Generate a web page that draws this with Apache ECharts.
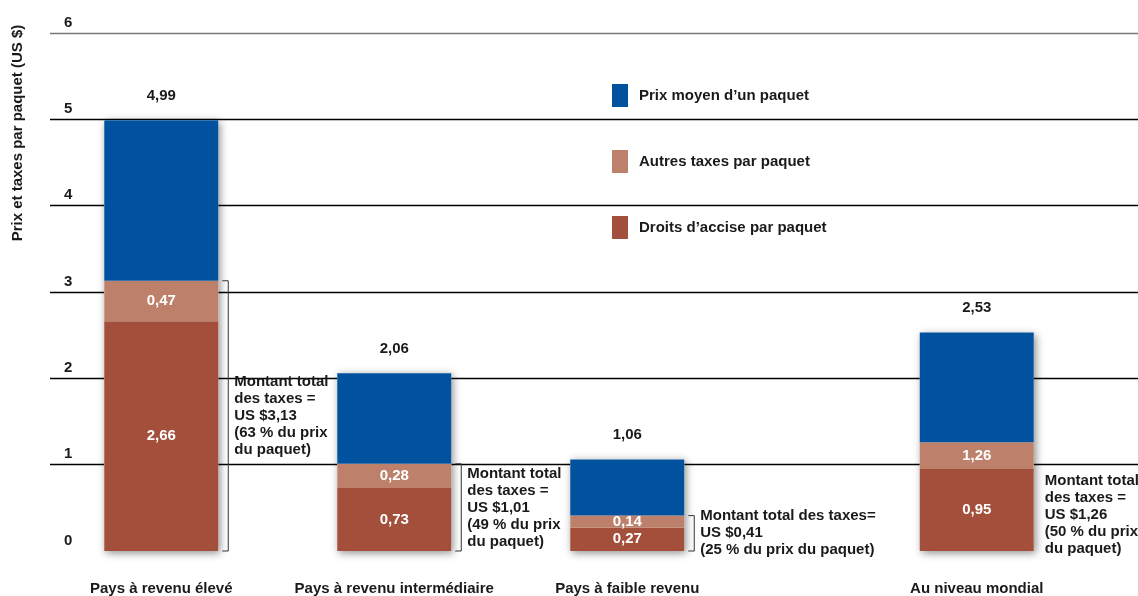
<!DOCTYPE html>
<html>
<head>
<meta charset="utf-8">
<script src="https://cdn.jsdelivr.net/npm/echarts@6/dist/echarts.min.js"></script>
<style>html,body{margin:0;padding:0;background:#fff}#c{width:1138px;height:596px}</style>
</head>
<body>
<div id="c"></div>
<script>
const categories = ['Pays à revenu élevé', 'Pays à revenu intermédiaire', 'Pays à faible revenu', 'Au niveau mondial'];
const totalPrice = [4.99, 2.06, 1.06, 2.53];
const exciseTax = [2.66, 0.73, 0.27, 0.95];
const otherTax = [0.47, 0.28, 0.14, 0.31];
const otherTaxLabels = ['0,47', '0,28', '0,14', '1,26'];
const taxTotals = [3.13, 1.01, 0.41, 1.26];
const taxNotes = [
  'Montant total\ndes taxes =\nUS $3,13\n(63 % du prix\ndu paquet)',
  'Montant total\ndes taxes =\nUS $1,01\n(49 % du prix\ndu paquet)',
  'Montant total des taxes=\nUS $0,41\n(25 % du prix du paquet)',
  'Montant total\ndes taxes =\nUS $1,26\n(50 % du prix\ndu paquet)'
];
const showBracket = [true, true, true, false];
const yTicks = [0, 1, 2, 3, 4, 5, 6];
const seriesNames = ['Prix moyen d’un paquet', 'Autres taxes par paquet', 'Droits d’accise par paquet'];

const FONT = '"Liberation Sans", Arial, sans-serif';
const COL_BLUE = '#00519e', COL_OTHER = '#bd806b', COL_EXCISE = '#a34f3b';
const BAR_W = 114;

// axis slots: spacer categories between groups
const spacersAfter = [1, 1, 2, 0];
const axisCats = [];
categories.forEach((c, i) => { axisCats.push(c); for (let k = 0; k < spacersAfter[i]; k++) axisCats.push('_' + i + '_' + k); });

const fmt = v => v.toFixed(2).replace('.', ',');
const priceRest = totalPrice.map((t, i) => +(t - exciseTax[i] - otherTax[i]).toFixed(2));

const chart = echarts.init(document.getElementById('c'), null, {renderer: 'canvas'});
const commonBar = {type: 'bar', xAxisIndex: 1, yAxisIndex: 1, barWidth: BAR_W, barGap: '-100%'};

chart.setOption({
  animation: false,
  textStyle: {fontFamily: FONT},
  graphic: [{
    type: 'text', x: 18, y: 133, rotation: Math.PI / 2,
    style: {text: 'Prix et taxes par paquet (US $)', font: 'bold 15px ' + FONT, fill: '#1a1a1a', align: 'center', verticalAlign: 'middle'}
  }],
  legend: {
    orient: 'vertical', left: 607, top: 79, itemWidth: 16, itemHeight: 23, itemGap: 43,
    data: seriesNames.map(n => ({name: n, icon: 'rect'})),
    textStyle: {fontFamily: FONT, fontWeight: 'bold', fontSize: 15, color: '#1a1a1a', padding: [0, 0, 0, 6]},
    selectedMode: false
  },
  grid: [
    {left: 50, right: 0, top: 33, bottom: 45},
    {left: 103, width: 932, top: 33, bottom: 45}
  ],
  xAxis: [
    {type: 'category', gridIndex: 0, data: ['a'], show: false},
    {type: 'category', gridIndex: 1, data: axisCats,
     axisLine: {show: false}, axisTick: {show: false},
     axisLabel: {interval: 0, margin: 30, fontFamily: FONT, fontWeight: 'bold', fontSize: 15, color: '#1a1a1a',
       formatter: v => v.startsWith('_') ? '' : v}}
  ],
  yAxis: [
    {type: 'value', gridIndex: 0, min: 0, max: 6, interval: 1,
     axisLine: {show: false}, axisTick: {show: false},
     axisLabel: {inside: true, align: 'left', verticalAlign: 'bottom', margin: 14, padding: [0, 0, 3, 0],
       fontFamily: FONT, fontWeight: 'bold', fontSize: 15, color: '#1a1a1a',
       formatter: v => yTicks.includes(v) ? String(v) : ''},
     splitLine: {show: true, lineStyle: {color: ['rgba(0,0,0,0)', '#000', '#000', '#000', '#000', '#000', '#777'], width: 1.3}}},
    {type: 'value', gridIndex: 1, min: 0, max: 6, interval: 1, show: false, splitLine: {show: false}}
  ],
  series: [
    Object.assign({}, commonBar, {
      name: 'shadow',
      data: totalPrice.map((v, i) => [categories[i], v]),
      itemStyle: {color: '#fff', shadowBlur: 8, shadowColor: 'rgba(0,0,0,0.45)', shadowOffsetX: 2, shadowOffsetY: 2},
      label: {show: true, position: 'top', distance: 17, fontFamily: FONT, fontWeight: 'bold', fontSize: 15, color: '#1a1a1a',
        formatter: p => fmt(p.value[1])},
      z: 1
    }),
    Object.assign({}, commonBar, {
      name: seriesNames[2], stack: 'tot',
      data: exciseTax.map((v, i) => [categories[i], v]),
      itemStyle: {color: COL_EXCISE},
      label: {show: true, position: 'inside', fontFamily: FONT, fontWeight: 'bold', fontSize: 15, color: '#fff',
        formatter: p => fmt(p.value[1])},
      z: 3
    }),
    Object.assign({}, commonBar, {
      name: seriesNames[1], stack: 'tot',
      data: otherTax.map((v, i) => [categories[i], v]),
      itemStyle: {color: COL_OTHER},
      label: {show: true, position: 'inside', fontFamily: FONT, fontWeight: 'bold', fontSize: 15, color: '#fff',
        formatter: p => otherTaxLabels[p.dataIndex]},
      z: 3
    }),
    Object.assign({}, commonBar, {
      name: seriesNames[0], stack: 'tot',
      data: priceRest.map((v, i) => [categories[i], v]),
      itemStyle: {color: COL_BLUE},
      z: 3
    }),
    {
      type: 'custom', xAxisIndex: 1, yAxisIndex: 1, z: 4, clip: false,
      data: taxTotals.map((v, i) => [categories[i], v]),
      renderItem: function (params, api) {
        const i = params.dataIndex;
        const base = api.coord([api.value(0), 0]);
        const top = api.coord([api.value(0), api.value(1)]);
        const x = base[0] + BAR_W / 2 + 10;
        const children = [];
        if (showBracket[i]) {
          children.push({type: 'polyline', shape: {points: [[x - 6, top[1]], [x, top[1]], [x, base[1]], [x - 6, base[1]]]},
            style: {stroke: '#333', lineWidth: 1, fill: null}});
          children.push({type: 'text', x: x + 6, y: (top[1] + base[1]) / 2,
            style: {text: taxNotes[i], font: 'bold 15px ' + FONT, fill: '#1a1a1a', lineHeight: 17, align: 'left', verticalAlign: 'middle'}});
        } else {
          children.push({type: 'text', x: base[0] + BAR_W / 2 + 11, y: base[1] + 6,
            style: {text: taxNotes[i], font: 'bold 15px ' + FONT, fill: '#1a1a1a', lineHeight: 17, align: 'left', verticalAlign: 'bottom'}});
        }
        return {type: 'group', children: children};
      }
    }
  ]
});
</script>
</body>
</html>
